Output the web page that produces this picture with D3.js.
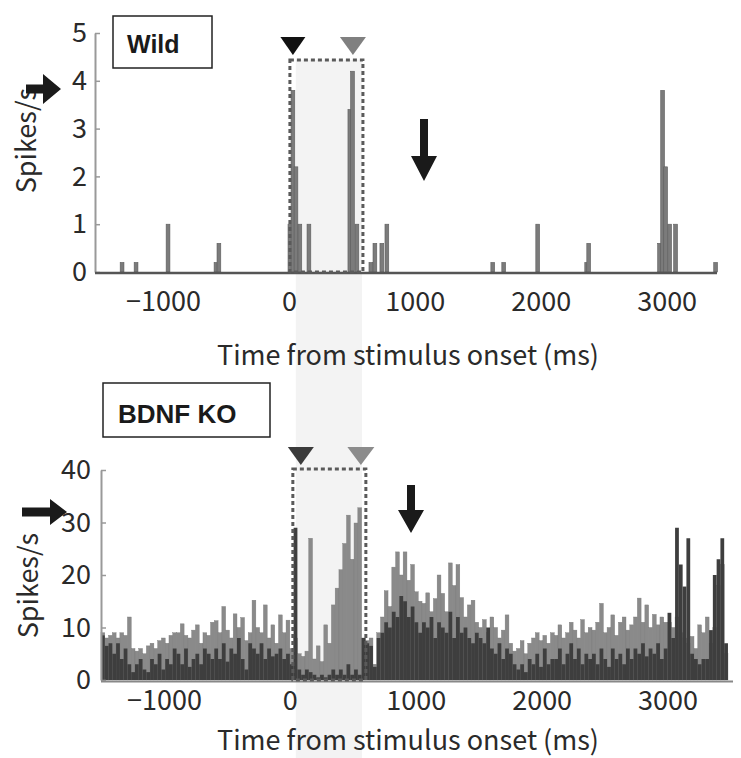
<!DOCTYPE html>
<html><head><meta charset="utf-8">
<script src="https://cdn.jsdelivr.net/npm/d3@7"></script>
<style>body{margin:0;background:#fff}</style>
</head><body>
<svg id="c" width="741" height="758"></svg>
<script>
// ---------- DATA ----------
const xTickValues = [-1000, 0, 1000, 2000, 3000];
const wildYTicks = [0, 1, 2, 3, 4, 5];
const koYTicks = [0, 10, 20, 30, 40];
const binWidth = 30; // ms
// Wild: bar centre times (ms) and firing rate (spikes/s)
const wildTimes = [-1325,-1214,-960,-579,-556,8,32,56,87,159,484,505,540,651,683,738,778,1619,1706,1976,2365,2381,2944,2968,2992,3024,3071,3389];
const wildRates = [0.2,0.2,1.0,0.2,0.6,1.0,3.8,2.2,1.0,1.0,3.4,4.2,1.0,0.2,0.6,0.6,1.0,0.2,0.2,1.0,0.2,0.6,0.6,3.8,2.2,1.0,1.0,0.2];
// BDNF KO: 30 ms bins starting at -1500 ms
const koBinStarts = d3.range(-1500, 3480, binWidth);
const koLight = [
 9,8,8.5,9,8,9,8.5,12,6,5.5,
 6,5,6.5,7,6,7.5,8,7,8.5,9,
 9,10.7,8.5,8,9.5,10.5,7,9,8.5,11,
 11.3,9,14,9.5,8,12.6,10,11.9,7.5,9,
 15.2,10,9,14.3,8,10.5,7,12.4,9,11.4,
 6,8,5,4.5,5.5,27,4,6.5,3.5,10.5,
 7,14.3,17.5,21,26,31.4,23,29.9,32.8,8,
 7.5,8,3,9,12,17,14,21.5,24.4,20,
 24.4,19,22,16.8,15,14.6,16.6,13,15.5,20,
 16.5,13,22.3,18,22,15.7,12,14.3,15.2,11,
 10,11.5,9,12,10,8,9.5,12.4,7,5.5,
 6,7.5,5,7,8,9,7.5,8.5,7,9,
 8.5,10.5,8,9,11,9.5,8,11.5,9,10,
 9.5,11,14.6,9,10,12.4,8.5,11,12,9.5,
 10.5,12,15.6,11,14.3,10,12.5,10.5,12,11,
 11,10,12,9,8,7,8.3,6,10.5,9,
 12,7,10,18,22,5];
const koDark = [
 8.5,6.5,7,5,7,4,6,3,1.5,3,
 4,2,1.5,4,3,5,2,4,3,6,
 5,3,6,2.5,4,5,3,6,5,4,
 6,4,7,3.5,6,5,8,4,2,7,
 6,5,7,4,6,4.5,5,6,4,5,
 3,29,2,1,2,1.5,1,0.5,1,0.5,
 1,2,1,2,1,3,1,2,1,8,
 7,6.5,2.5,8,9,11,10,13,12,16,
 15,12,14,11,9,11,10,12,8,11,
 10,9,13,8,12,9,10,8,7,9,
 8,7,10,6,5,7,4,6,5,3,
 2,3,1.5,4,3,5,2.5,6,3,4,
 4,6,3,5,7,4,6,3,5,4,
 5,3,6,4,2.5,6,4,5,3,6,
 4,6,5,7,4.5,6,5,7,4,6,
 12.8,8,29,22,17.8,27,5,4,3,4,
 4,9.5,20,23,27,7];
const stimOn = 0, stimOff = 580; // ms, dotted window

// ---------- DRAW ----------
const svg = d3.select("#c");
const FONT = "'Noto Sans CJK JP','Noto Sans',sans-serif";
const BOLD = "'Liberation Sans',Arial,sans-serif";

const xTop = d3.scaleLinear().domain([-1540, 3400]).range([95, 717]);
const yTop = d3.scaleLinear().domain([0, 5]).range([272, 33]);
const xBot = d3.scaleLinear().domain([-1500, 3520]).range([101, 733]);
const yBot = d3.scaleLinear().domain([0, 40]).range([680, 470]);

// shaded stimulus band across both panels
svg.append("rect").attr("x", xTop(55)).attr("y", 60)
  .attr("width", xTop(stimOff) - xTop(55)).attr("height", 698)
  .attr("fill", "#f3f3f3");

// ---- Top panel (Wild)
svg.append("g").selectAll("rect.bar").data(wildTimes.map((t,i)=>({t, v: wildRates[i]})))
  .join("rect").attr("class","bar")
  .attr("x", d => xTop(d.t - binWidth/2))
  .attr("width", d => xTop(d.t + binWidth/2) - xTop(d.t - binWidth/2))
  .attr("y", d => yTop(d.v)).attr("height", d => yTop(0) - yTop(d.v))
  .attr("fill", "#7b7b7b").attr("stroke", "#5c5c5c").attr("stroke-width", 0.6);

const yAxT = d3.axisLeft(yTop).tickValues(wildYTicks).tickSize(-5).tickSizeOuter(0).tickPadding(8).tickFormat(d3.format("d"));
const gyT = svg.append("g").attr("transform", `translate(${xTop.range()[0]},0)`).call(yAxT);
gyT.select(".domain").attr("stroke", "#999").attr("stroke-width", 2);
gyT.selectAll(".tick line").attr("stroke", "#999").attr("stroke-width", 1.5);
gyT.selectAll("text").attr("font-family", FONT).attr("font-size", 27).attr("fill", "#2a2a2a");

svg.append("line").attr("x1", xTop.range()[0]).attr("x2", xTop.range()[1])
  .attr("y1", yTop(0)+1).attr("y2", yTop(0)+1).attr("stroke", "#555").attr("stroke-width", 2.5);
const xAxT = d3.axisBottom(xTop).tickValues(xTickValues).tickSize(0).tickPadding(20).tickFormat(d3.format("d"));
const gxT = svg.append("g").attr("transform", `translate(0,${yTop(0)})`).call(xAxT);
gxT.select(".domain").remove();
gxT.selectAll("text").attr("font-family", FONT).attr("font-size", 27).attr("fill", "#2a2a2a");

svg.append("text").attr("x", 408).attr("y", 365).attr("text-anchor","middle")
  .attr("font-family", FONT).attr("font-size", 27).attr("fill", "#2a2a2a")
  .text("Time from stimulus onset (ms)");
svg.append("text").attr("transform", `translate(36,${yTop(2.75)}) rotate(-90)`).attr("text-anchor","middle")
  .attr("font-family", FONT).attr("font-size", 27).attr("fill", "#2a2a2a").text("Spikes/s");

// dotted window top
svg.append("rect").attr("x", xTop(stimOn)+1).attr("y", 60)
  .attr("width", xTop(stimOff) - xTop(stimOn)).attr("height", yTop(0) - 60)
  .attr("fill", "none").attr("stroke", "#5a5a5a").attr("stroke-width", 3).attr("stroke-dasharray", "4,3");

// Wild label
svg.append("rect").attr("x", 113).attr("y", 16).attr("width", 99).attr("height", 52)
  .attr("fill", "#fff").attr("stroke", "#222").attr("stroke-width", 1.5);
svg.append("text").attr("x", 127).attr("y", 53).attr("font-family", BOLD).attr("font-weight", "bold")
  .attr("font-size", 25).attr("fill", "#1a1a1a").text("Wild");

const tri = (cx, tipY, w, h) => `M${cx - w/2},${tipY - h}L${cx + w/2},${tipY - h}L${cx},${tipY}Z`;
svg.append("path").attr("d", tri(xTop(stimOn)+4, 55, 25, 18)).attr("fill", "#111");
svg.append("path").attr("d", tri(xTop(stimOff)-9, 55, 26, 18)).attr("fill", "#808080");

function arrowRight(x0, tipX, y, shaftW, headHalf, headLen, col){
  svg.append("path").attr("d",
    `M${x0},${y-shaftW/2}L${tipX-headLen},${y-shaftW/2}L${tipX-headLen},${y-headHalf}L${tipX},${y}L${tipX-headLen},${y+headHalf}L${tipX-headLen},${y+shaftW/2}L${x0},${y+shaftW/2}Z`)
    .attr("fill", col);
}
function arrowDown(x, y0, tipY, shaftW, headHalf, headLen, col){
  svg.append("path").attr("d",
    `M${x-shaftW/2},${y0}L${x+shaftW/2},${y0}L${x+shaftW/2},${tipY-headLen}L${x+headHalf},${tipY-headLen}L${x},${tipY}L${x-headHalf},${tipY-headLen}L${x-shaftW/2},${tipY-headLen}Z`)
    .attr("fill", col);
}
arrowRight(26, 61, 89, 9, 15, 18, "#1a1a1a");
arrowDown(424, 119, 181, 8, 13, 25, "#1a1a1a");

// ---- Bottom panel (BDNF KO)
const koData = koBinStarts.map((t,i)=>({t, L: koLight[i], D: koDark[i]}));
svg.append("g").selectAll("rect").data(koData).join("rect")
  .attr("x", d => xBot(d.t)).attr("width", d => xBot(d.t + binWidth) - xBot(d.t))
  .attr("y", d => yBot(d.L)).attr("height", d => yBot(0) - yBot(d.L))
  .attr("fill", "#8a8a8a").attr("stroke", "#7a7a7a").attr("stroke-width", 0.4);
svg.append("g").selectAll("rect").data(koData).join("rect")
  .attr("x", d => xBot(d.t)).attr("width", d => xBot(d.t + binWidth) - xBot(d.t))
  .attr("y", d => yBot(d.D)).attr("height", d => yBot(0) - yBot(d.D))
  .attr("fill", "#3e3e3e");

const yAxB = d3.axisLeft(yBot).tickValues(koYTicks).tickSize(-5).tickSizeOuter(0).tickPadding(10);
const gyB = svg.append("g").attr("transform", `translate(${xBot.range()[0]},0)`).call(yAxB);
gyB.select(".domain").attr("stroke", "#999").attr("stroke-width", 2);
gyB.selectAll(".tick line").attr("stroke", "#999").attr("stroke-width", 1.5);
gyB.selectAll("text").attr("font-family", FONT).attr("font-size", 27).attr("fill", "#2a2a2a");

svg.append("line").attr("x1", xBot.range()[0]).attr("x2", xBot.range()[1])
  .attr("y1", yBot(0)+1.5).attr("y2", yBot(0)+1.5).attr("stroke", "#888").attr("stroke-width", 2);
const xAxB = d3.axisBottom(xBot).tickValues(xTickValues).tickSize(0).tickPadding(11).tickFormat(d3.format("d"));
const gxB = svg.append("g").attr("transform", `translate(0,${yBot(0)})`).call(xAxB);
gxB.select(".domain").remove();
gxB.selectAll("text").attr("font-family", FONT).attr("font-size", 27).attr("fill", "#2a2a2a");

svg.append("text").attr("x", 408).attr("y", 750).attr("text-anchor","middle")
  .attr("font-family", FONT).attr("font-size", 27).attr("fill", "#2a2a2a")
  .text("Time from stimulus onset (ms)");
svg.append("text").attr("transform", `translate(38,${yBot(18)}) rotate(-90)`).attr("text-anchor","middle")
  .attr("font-family", FONT).attr("font-size", 27).attr("fill", "#2a2a2a").text("Spikes/s");

// dotted window bottom
svg.append("rect").attr("x", xBot(stimOn)+3).attr("y", 469)
  .attr("width", xBot(stimOff) - xBot(stimOn)).attr("height", yBot(0) - 469)
  .attr("fill", "none").attr("stroke", "#5a5a5a").attr("stroke-width", 3).attr("stroke-dasharray", "4,3");

// BDNF KO label
svg.append("rect").attr("x", 103).attr("y", 383).attr("width", 167).attr("height", 54)
  .attr("fill", "#fff").attr("stroke", "#222").attr("stroke-width", 1.5);
svg.append("text").attr("x", 118).attr("y", 423).attr("font-family", BOLD).attr("font-weight", "bold")
  .attr("font-size", 26).attr("fill", "#1a1a1a").text("BDNF KO");

svg.append("path").attr("d", tri(xBot(stimOn)+11, 465, 26, 18)).attr("fill", "#3a3a3a");
svg.append("path").attr("d", tri(xBot(stimOff)-2, 465, 27, 18)).attr("fill", "#8c8c8c");

arrowRight(22, 67, 512, 9, 13, 17, "#1a1a1a");
arrowDown(411, 485, 533, 8, 13, 23, "#1a1a1a");
</script>
</body></html>
